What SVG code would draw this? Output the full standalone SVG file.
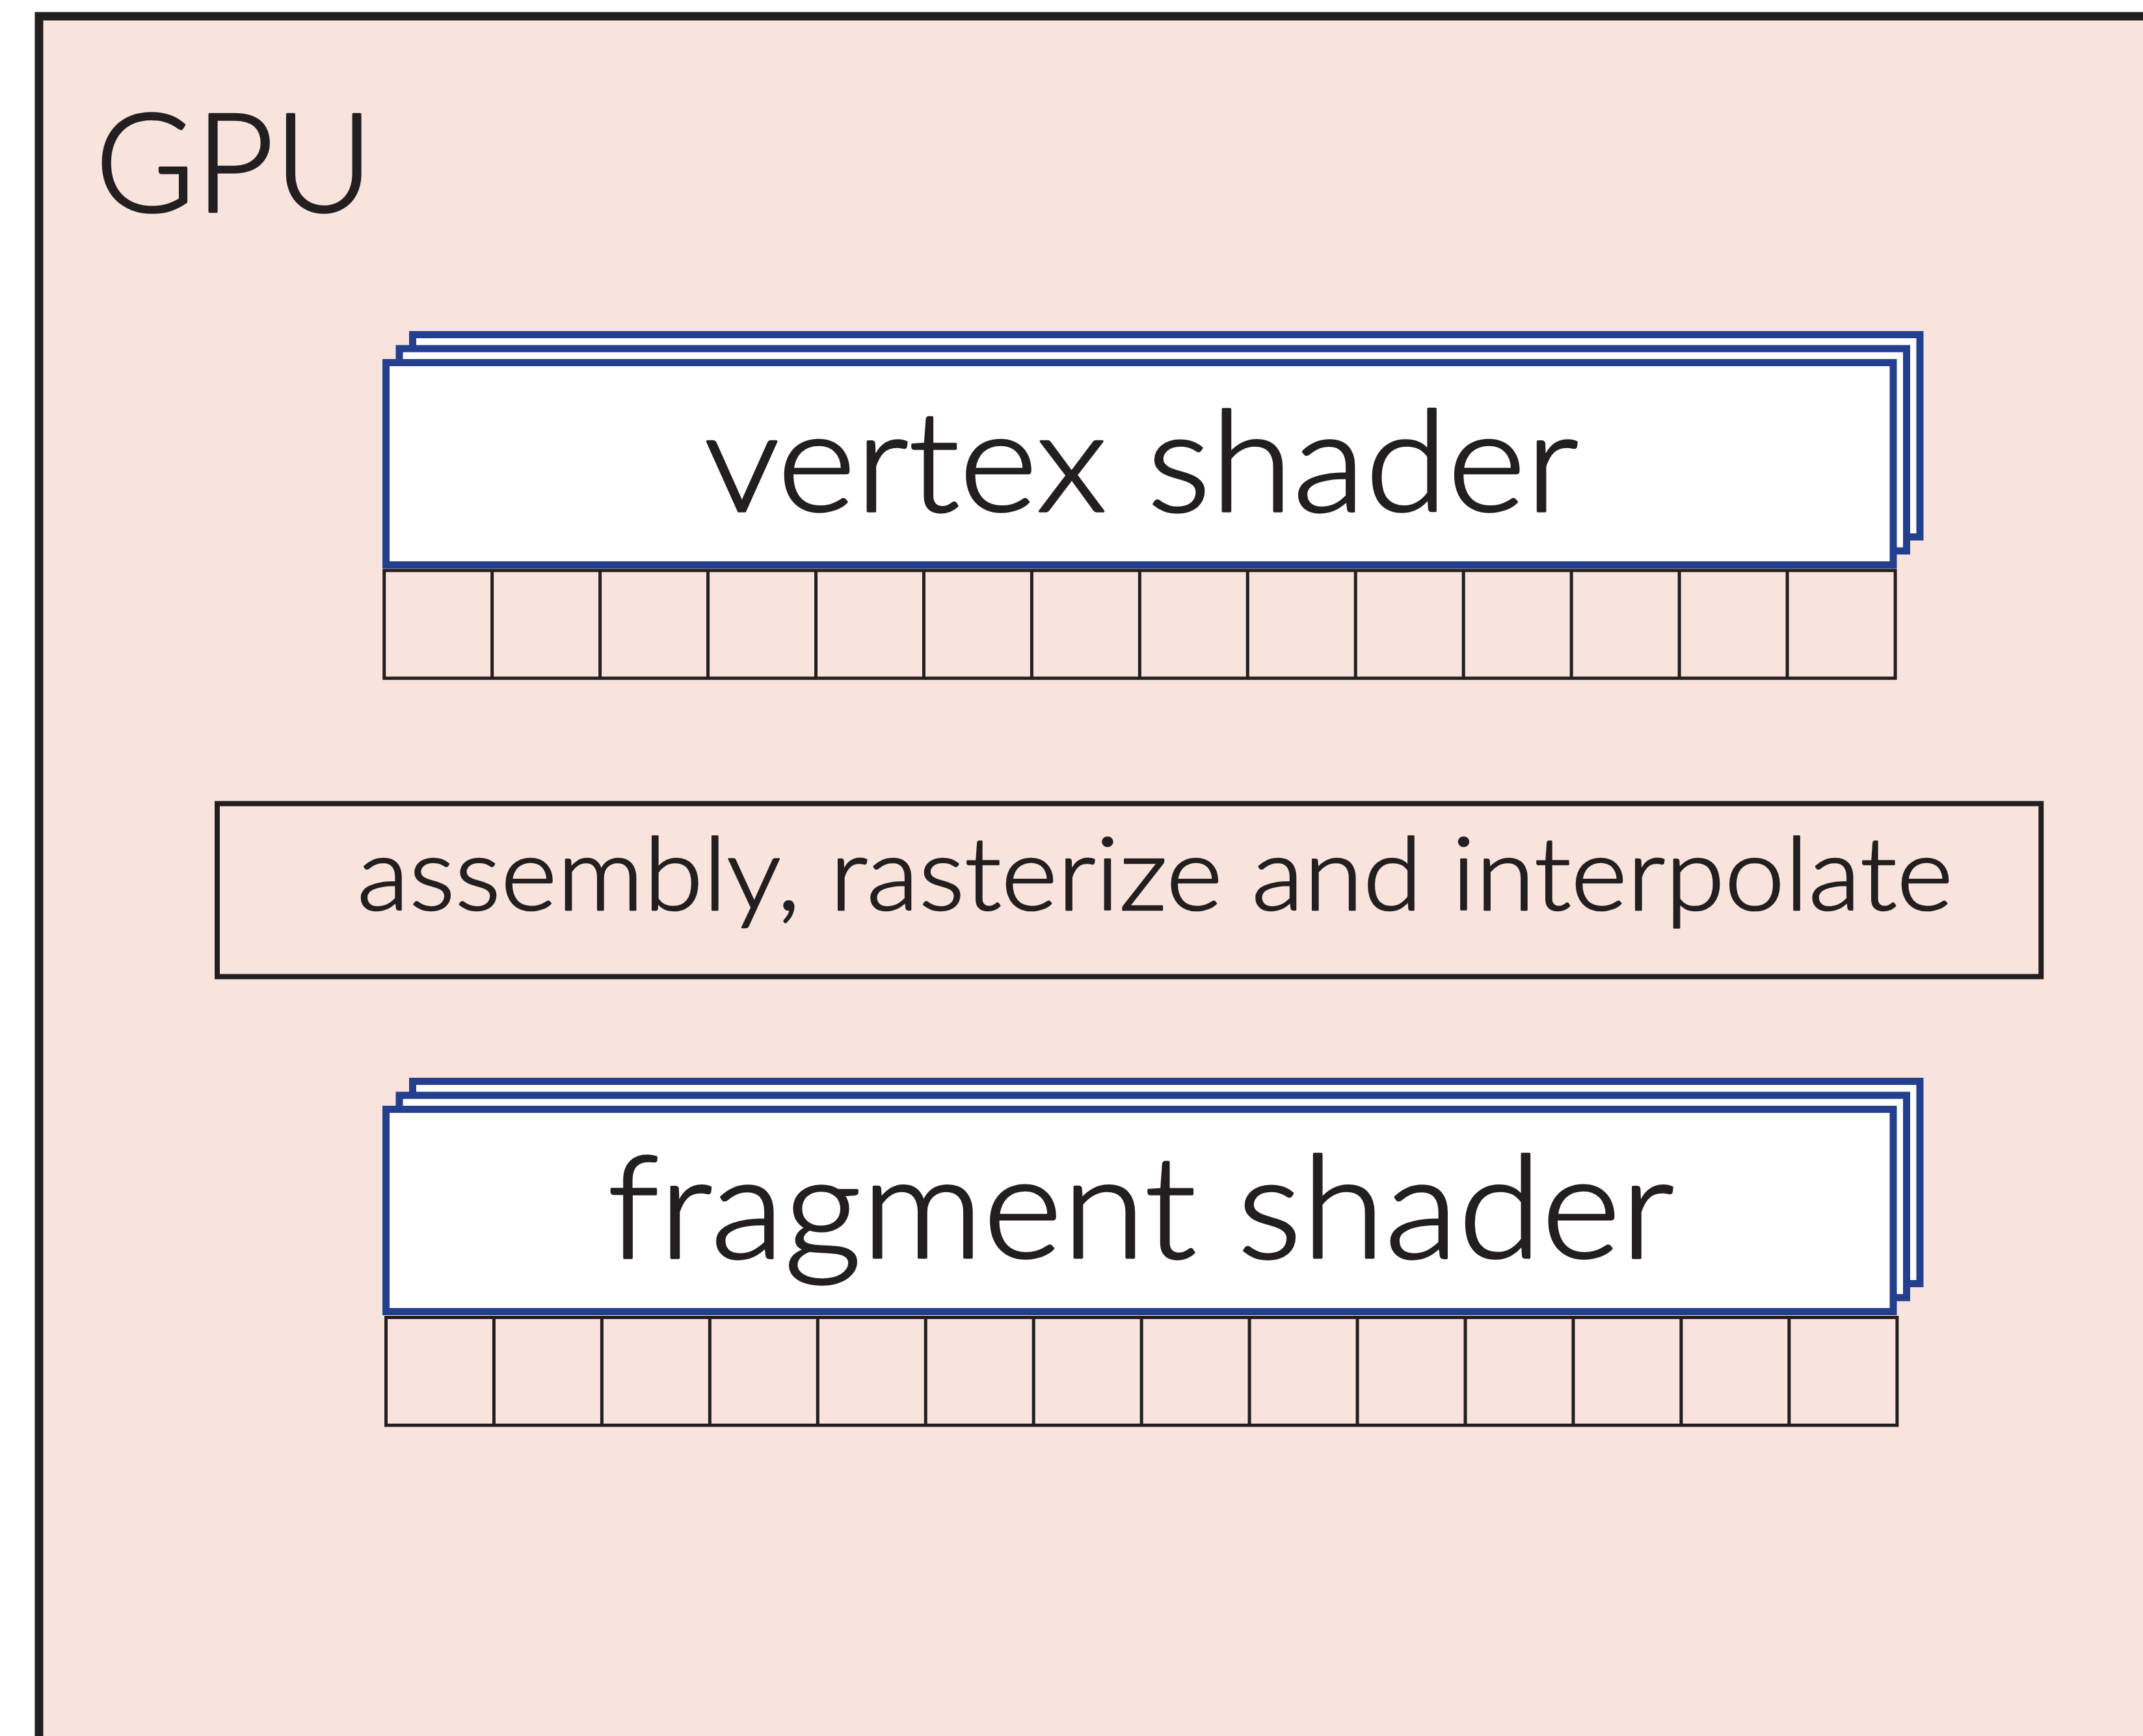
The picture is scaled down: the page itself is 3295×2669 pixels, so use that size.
<svg xmlns="http://www.w3.org/2000/svg" width="3295" height="2669" viewBox="0 0 3295 2669">
<style>
.frame{fill:#F8E4DC;stroke:#231F20;stroke-width:13}
.sh{fill:#FFFFFF;stroke:#253F8F;stroke-width:11}
.cells{fill:none;stroke:#231F20;stroke-width:5}
.box{fill:none;stroke:#231F20;stroke-width:8}
.t{font-family:Lato,"Liberation Sans",sans-serif;font-weight:300;fill:#231F20;stroke:#231F20;stroke-width:3.4;stroke-linejoin:round}
.t.s{stroke-width:2.6}
</style>
<defs>
<g id="stack">
<rect class="sh" x="41" y="-43" width="2317.5" height="311"/>
<rect class="sh" x="20.5" y="-21.5" width="2317.5" height="311"/>
<rect class="sh" x="0" y="0" width="2317.5" height="311"/>
</g>
<path id="cellrow" class="cells" d="M0,0H2323.4V165.7H0Z M165.95,0V165.7 M331.9,0V165.7 M497.85,0V165.7 M663.8,0V165.7 M829.75,0V165.7 M995.7,0V165.7 M1161.65,0V165.7 M1327.6,0V165.7 M1493.55,0V165.7 M1659.5,0V165.7 M1825.45,0V165.7 M1991.4,0V165.7 M2157.35,0V165.7"/>
</defs>
<rect x="0" y="0" width="3295" height="2669" fill="#FFFFFF"/>
<g id="gpu">
<rect class="frame" x="60" y="25" width="3300" height="2700"/>
<text class="t" x="146" y="325" font-size="212" textLength="428" lengthAdjust="spacingAndGlyphs">GPU</text>
</g>
<g id="vertex-shader">
<use href="#stack" x="593.5" y="557.5"/>
<use href="#cellrow" x="590.7" y="877"/>
<text class="t" x="1083" y="786" font-size="216" textLength="1344" lengthAdjust="spacingAndGlyphs">vertex shader</text>
</g>
<g id="assembly">
<rect class="box" x="334" y="1235.5" width="2804.3" height="266"/>
<text class="t s" x="549" y="1399" font-size="156" textLength="2454" lengthAdjust="spacingAndGlyphs">assembly, rasterize and interpolate</text>
</g>
<g id="fragment-shader">
<use href="#stack" x="593.5" y="1705.5"/>
<use href="#cellrow" x="593.5" y="2025.5"/>
<text class="t" x="934" y="1934" font-size="220" textLength="1640" lengthAdjust="spacingAndGlyphs">fragment shader</text>
</g>
<g id="connectors"/>
</svg>
